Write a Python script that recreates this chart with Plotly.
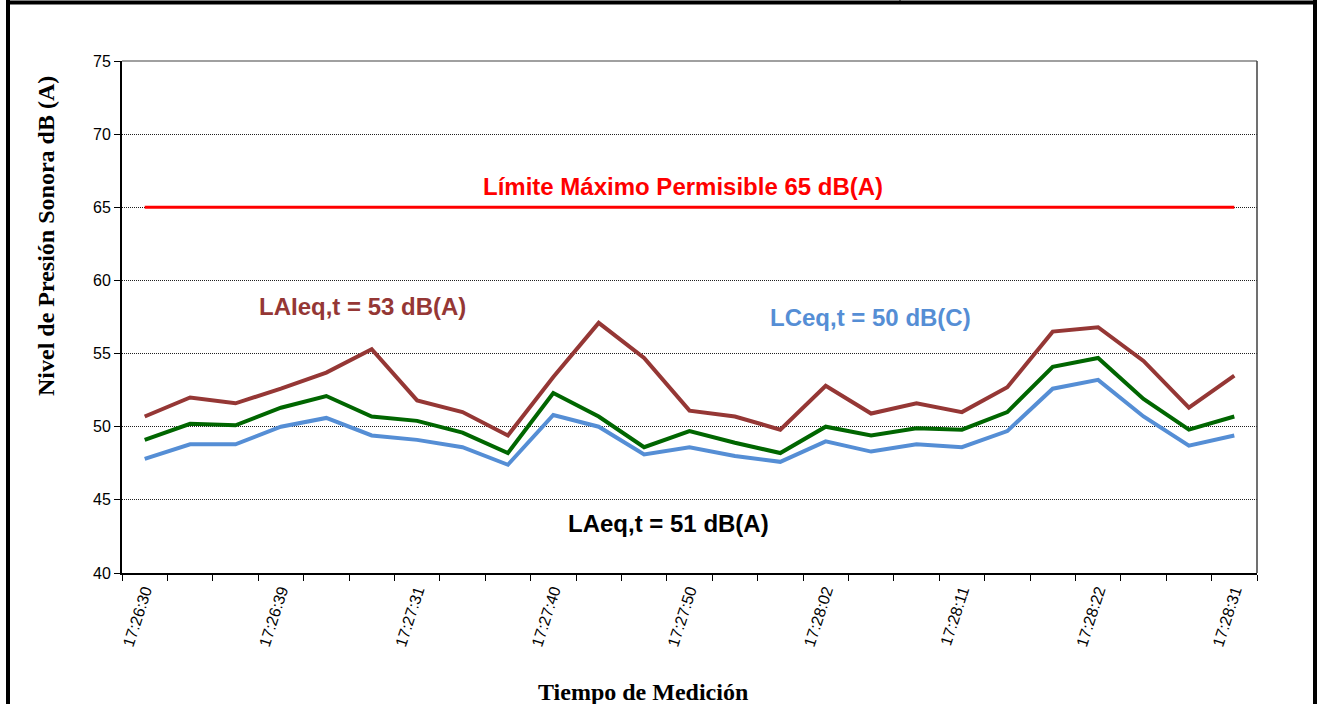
import plotly.graph_objects as go

# ---- data ----
time_labels = ["17:26:30", "17:26:39", "17:27:31", "17:27:40", "17:27:50",
               "17:28:02", "17:28:11", "17:28:22", "17:28:31"]
label_index = [0, 3, 6, 9, 12, 15, 18, 21, 24]
n_points = 25
positions = list(range(n_points))

laieq = [50.7, 52.0, 51.6, 52.6, 53.7, 55.3, 51.8, 51.0, 49.4,
         53.4, 57.1, 54.7, 51.1, 50.7, 49.8, 52.8, 50.9, 51.6, 51.0,
         52.7, 56.5, 56.8, 54.5, 51.3, 53.5]
laeq = [49.1, 50.2, 50.1, 51.3, 52.1, 50.7, 50.4, 49.6, 48.2,
        52.3, 50.7, 48.6, 49.7, 48.9, 48.2, 50.0, 49.4, 49.9, 49.8,
        51.0, 54.1, 54.7, 51.9, 49.8, 50.7]
lceq = [47.8, 48.8, 48.8, 50.0, 50.6, 49.4, 49.1, 48.6, 47.4,
        50.8, 50.0, 48.1, 48.6, 48.0, 47.6, 49.0, 48.3, 48.8, 48.6,
        49.7, 52.6, 53.2, 50.7, 48.7, 49.4]
limit_value = 65
limit = [limit_value] * n_points

# ---- layout geometry (pixels) ----
W, H = 1325, 704
PL, PR, PT, PB = 122, 1257, 61, 573


def px(x):
    return (x - PL) / (PR - PL)


def py(y):
    return (PB - y) / (PB - PT)


fig = go.Figure()
fig.add_trace(go.Scatter(x=positions, y=limit, mode="lines", name="Límite",
                         line=dict(color="#FF0000", width=3)))
fig.add_trace(go.Scatter(x=positions, y=laieq, mode="lines", name="LAIeq,t",
                         line=dict(color="#953735", width=4)))
fig.add_trace(go.Scatter(x=positions, y=laeq, mode="lines", name="LAeq,t",
                         line=dict(color="#006600", width=4)))
fig.add_trace(go.Scatter(x=positions, y=lceq, mode="lines", name="LCeq,t",
                         line=dict(color="#558ED5", width=4)))

sans = "Arial, Liberation Sans, sans-serif"
serif = "Times New Roman, Liberation Serif, serif"

annotations = [
    dict(x=11.86, y=66.45, text="<b>Límite Máximo Permisible 65 dB(A)</b>",
         font=dict(family=sans, size=24, color="#FF0000")),
    dict(x=4.79, y=58.2, text="<b>LAIeq,t = 53 dB(A)</b>",
         font=dict(family=sans, size=24, color="#953735")),
    dict(x=15.98, y=57.5, text="<b>LCeq,t = 50 dB(C)</b>",
         font=dict(family=sans, size=24, color="#558ED5")),
    dict(x=11.53, y=43.4, text="<b>LAeq,t = 51 dB(A)</b>",
         font=dict(family=sans, size=24, color="#000000")),
]
for a in annotations:
    a.update(xref="x", yref="y", showarrow=False, xanchor="center", yanchor="middle")

annotations += [
    dict(xref="paper", yref="paper", x=px(46), y=py(236), showarrow=False,
         text="<b>Nivel de Presión Sonora dB (A)</b>", textangle=-90,
         font=dict(family=serif, size=24, color="black"),
         xanchor="center", yanchor="middle"),
    dict(xref="paper", yref="paper", x=px(643), y=py(692), showarrow=False,
         text="<b>Tiempo de Medición</b>",
         font=dict(family=serif, size=24, color="black"),
         xanchor="center", yanchor="middle"),
]

frame = dict(color="black", width=4)
shapes = [
    # outer frame
    dict(type="line", xref="paper", yref="paper", x0=px(8), x1=px(8), y0=py(0), y1=py(720), line=frame),
    dict(type="line", xref="paper", yref="paper", x0=px(6), x1=px(1317), y0=py(2.5), y1=py(2.5), line=frame),
    dict(type="line", xref="paper", yref="paper", x0=px(1315), x1=px(1315), y0=py(0), y1=py(720), line=frame),
    dict(type="line", xref="paper", yref="paper", x0=px(900), x1=px(900), y0=py(0), y1=py(4),
         line=dict(color="black", width=1)),
    # plot-area top/right border
    dict(type="line", xref="paper", yref="paper", x0=0, x1=1, y0=1, y1=1,
         line=dict(color="#808080", width=1.5)),
    dict(type="line", xref="paper", yref="paper", x0=1, x1=1, y0=0, y1=1,
         line=dict(color="#404040", width=1.5)),
]

fig.update_layout(
    width=W, height=H,
    margin=dict(l=PL, r=W - PR, t=PT, b=H - PB, pad=0),
    paper_bgcolor="white", plot_bgcolor="white",
    showlegend=False,
    annotations=annotations,
    shapes=shapes,
    font=dict(family=sans, size=16, color="black"),
)
fig.update_xaxes(
    range=[-0.5, n_points - 0.5],
    tickmode="array", tickvals=label_index, ticktext=time_labels,
    tickangle=-72, ticks="", tickfont=dict(family=sans, size=16, color="black"),
    showgrid=False, zeroline=False,
    showline=True, linecolor="black", linewidth=2,
    minor=dict(ticks="outside", tickmode="array",
               tickvals=[i - 0.5 for i in range(n_points + 1)],
               ticklen=6, tickcolor="black", tickwidth=1, showgrid=False),
)
fig.update_yaxes(
    range=[40, 75], tickmode="linear", tick0=40, dtick=5,
    ticks="outside", ticklen=6, tickcolor="black",
    tickfont=dict(family=sans, size=16, color="black"),
    showgrid=True, gridcolor="#202020", griddash="1px,1px", gridwidth=1,
    zeroline=False, showline=True, linecolor="black", linewidth=2,
)

fig.write_html("out.html", config={"displayModeBar": False},
               post_script="document.body.style.margin='0';document.body.style.overflow='hidden';")
